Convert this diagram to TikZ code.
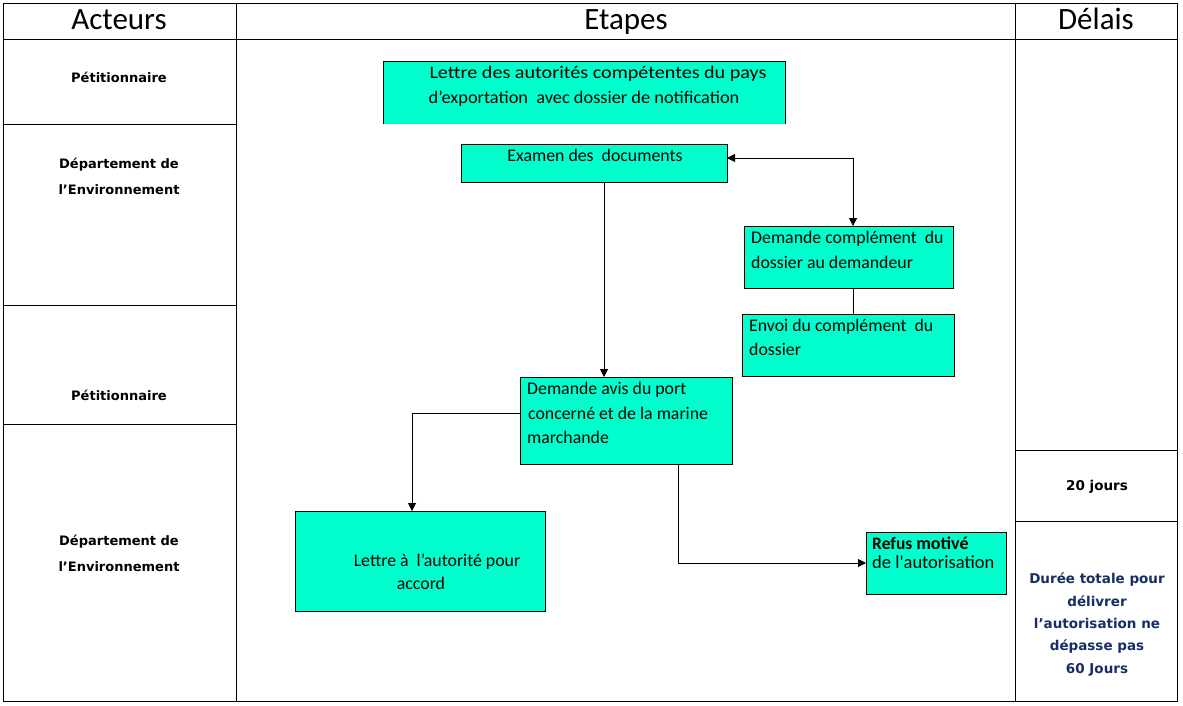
\documentclass[tikz,border=0pt]{standalone}
\usepackage{fontspec}
\usepackage{graphicx}
\setmainfont{Carlito}
\newfontfamily\labfont{DejaVu Sans}
\usetikzlibrary{arrows.meta}
\definecolor{boxfill}{RGB}{0,255,204}
\definecolor{navy}{RGB}{23,45,100}
\begin{document}
\begin{tikzpicture}[x=1pt,y=-1pt,
  grid/.style={line width=1pt, draw=black},
  box/.style={fill=boxfill, draw=black, line width=1pt, inner sep=0pt, outer sep=0pt, anchor=north west},
  boxtxt/.style={font=\fontsize{17.8}{25}\selectfont, inner sep=0pt, anchor=base west},
  boxtxtc/.style={font=\fontsize{17.8}{25}\selectfont, inner sep=0pt, anchor=base},
  head/.style={font=\fontsize{31}{36}\selectfont, inner sep=0pt, anchor=base},
  actor/.style={font=\labfont\bfseries\fontsize{13}{26}\selectfont, inner sep=0pt, anchor=base},
  delay/.style={font=\labfont\bfseries\fontsize{13.5}{22.5}\selectfont, inner sep=0pt, anchor=base},
  link/.style={line width=1pt, draw=black},
  arr/.style={link, -{Triangle[length=8pt,width=8pt]}},
  darr/.style={link, {Triangle[length=8pt,width=8pt]}-{Triangle[length=8pt,width=8pt]}}]
\useasboundingbox (0,0) rectangle (1183,705);

% table
\draw[grid] (3,3) rectangle (1177,701);
\draw[grid] (3,39) -- (1177,39);
\draw[grid] (236,3) -- (236,701);
\draw[grid] (1015,3) -- (1015,701);
\draw[grid] (3,124) -- (236,124);
\draw[grid] (3,305) -- (236,305);
\draw[grid] (3,424) -- (236,424);
\draw[grid] (1015,450) -- (1177,450);
\draw[grid] (1015,521) -- (1177,521);

% headers
\node[head] (hA) at (119,29) {Acteurs};
\node[head] (hE) at (626,29) {Etapes};
\node[head] (hD) at (1096,29) {D\'elais};

% actors
\node[actor] (a1) at (119,82) {Pétitionnaire};
\node[actor] (a2a) at (119,168) {Département de};
\node[actor] (a2b) at (119,194) {l’Environnement};
\node[actor] (a3) at (119,400) {Pétitionnaire};
\node[actor] (a4a) at (119,545) {Département de};
\node[actor] (a4b) at (119,571) {l’Environnement};

% delays
\node[delay] (d1) at (1097,490) {20 jours};
\node[delay, text=navy] (d2a) at (1097,583) {Durée totale pour};
\node[delay, text=navy] (d2b) at (1097,606) {délivrer};
\node[delay, text=navy] (d2c) at (1097,628) {l’autorisation ne};
\node[delay, text=navy] (d2d) at (1097,650) {dépasse pas};
\node[delay, text=navy] (d2e) at (1097,673) {60 Jours};

% boxes
\node[box, draw=none, minimum width=402pt, minimum height=63pt] (b1) at (383,61) {};
\draw[link] (b1.south west) -- (b1.north west) -- (b1.north east) -- (b1.south east);
\node[boxtxtc] (t1a) at (598,78) {\scalebox{1.13}[1]{Lettre des autorités compétentes du pays}};
\node[boxtxtc] (t1b) at (584,103) {\scalebox{1.03}[1]{d’exportation\ \ avec dossier de notification}};

\node[box, minimum width=266pt, minimum height=38pt] (b2) at (461,144) {};
\node[boxtxtc] (t2) at (595,161) {Examen des\ \ documents};

\node[box, minimum width=209pt, minimum height=62pt] (b3) at (744,226) {};
\node[boxtxt] (t3a) at (751,243) {Demande complément\ \ du};
\node[boxtxt] (t3b) at (751,268) {dossier au demandeur};

\node[box, minimum width=212pt, minimum height=62pt] (b4) at (742,314) {};
\node[boxtxt] (t4a) at (749,331) {Envoi du complément\ \ du};
\node[boxtxt] (t4b) at (749,355) {dossier};

\node[box, minimum width=212pt, minimum height=87pt] (b5) at (520,377) {};
\node[boxtxt] (t5a) at (527,394) {Demande\ avis\ du port};
\node[boxtxt] (t5b) at (528,419) {concerné et de la marine};
\node[boxtxt] (t5c) at (527,443) {marchande};

\node[box, minimum width=250pt, minimum height=100pt] (b6) at (295,511) {};
\node[boxtxtc] (t6a) at (437,566) {Lettre à\ \ l’autorité pour};
\node[boxtxtc] (t6b) at (421,589) {accord};

\node[box, minimum width=140pt, minimum height=62pt] (b7) at (866,532) {};
\node[inner sep=0pt, anchor=base west] (t7a) at (872,549) {\bfseries\fontsize{17.5}{19}\selectfont Refus \fontsize{18}{19}\selectfont motivé};
\node[inner sep=0pt, anchor=base west, font=\fontsize{18.5}{19}\selectfont] (t7b) at (872,568) {de l\textquotesingle autorisation};

% connectors
\coordinate (k0) at (604,0);
\coordinate (k1) at (853,158);
\coordinate (k2) at (412,413);
\coordinate (k3) at (678,563);
\draw[arr] (b2.south -| k0) -- (b5.north -| k0);
\draw[darr] (b2.east |- k1) -- (k1) -- (b3.north -| k1);
\draw[link] (b3.south -| k1) -- (b4.north -| k1);
\draw[arr] (b5.west |- k2) -- (k2) -- (b6.north -| k2);
\draw[arr] (b5.south -| k3) -- (k3) -- (b7.west |- k3);
\end{tikzpicture}
\end{document}
